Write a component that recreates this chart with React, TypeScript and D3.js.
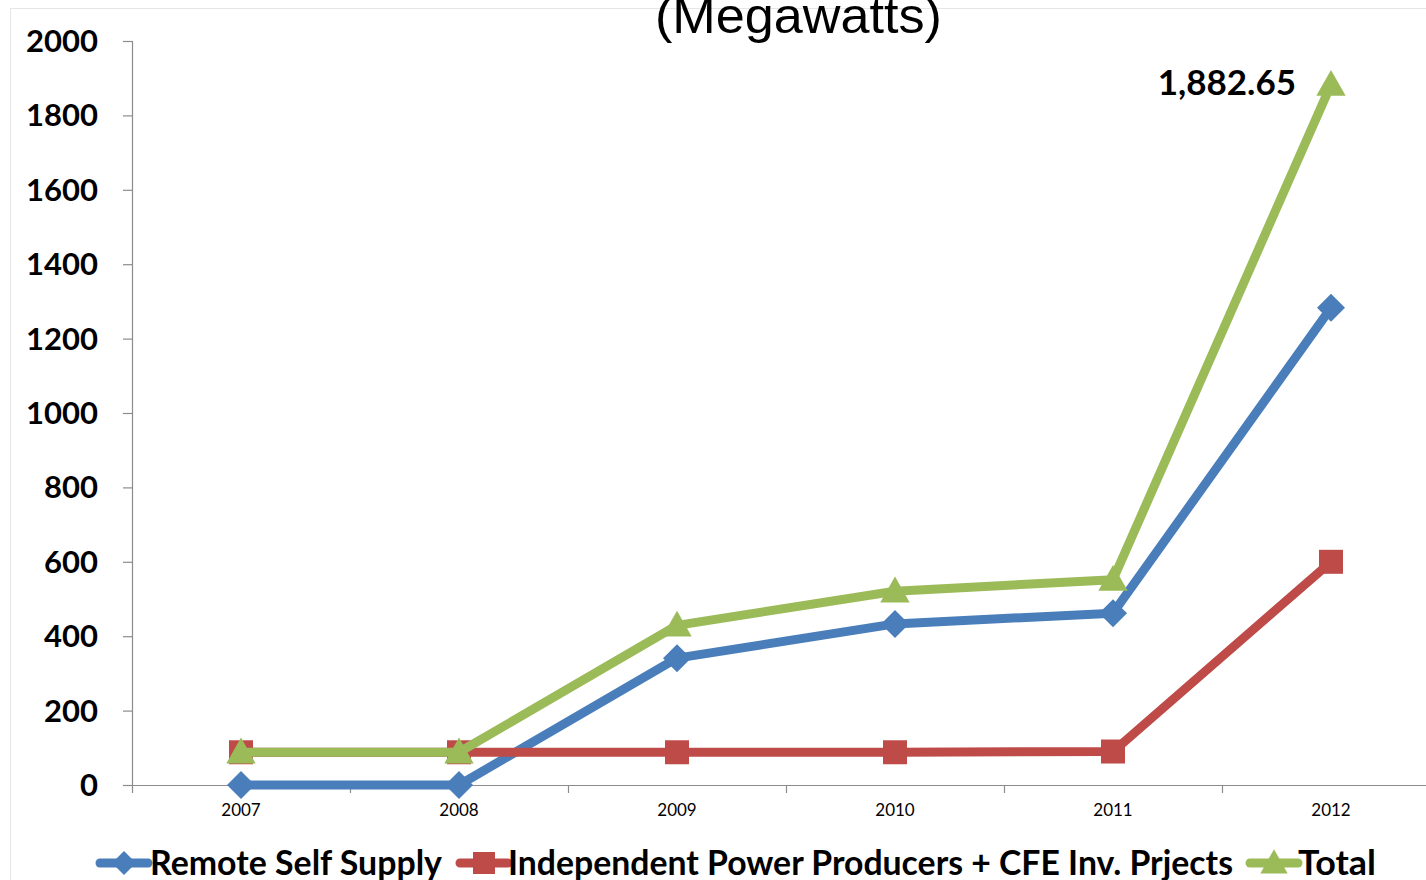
import React from "react";
import * as d3 from "d3";

const categories = ["2007", "2008", "2009", "2010", "2011", "2012"];
const remoteSelfSupply = [0, 0, 341, 433, 462, 1282.65];
const independentProducers = [88, 88, 88, 88, 90, 600];
const total = [88, 88, 429, 521, 552, 1882.65];
const yTicks = [0, 200, 400, 600, 800, 1000, 1200, 1400, 1600, 1800, 2000];
const seriesNames = ["Remote Self Supply", "Independent Power Producers + CFE Inv. Prjects", "Total"];
const annotationText = "1,882.65";

const BLUE = "#4A7EBB";
const RED = "#BE4B48";
const GREEN = "#9BBB59";

export default function App() {
  const W = 1426, H = 880;
  const x = d3.scaleBand<string>().domain(categories).range([132, 132 + 6 * 218]).paddingInner(0).paddingOuter(0);
  const y = d3.scaleLinear().domain([0, 2000]).range([785, 41]);
  const cx = (c: string) => (x(c) as number) + x.bandwidth() / 2;
  const line = d3.line<number>().x((_, i) => cx(categories[i])).y((v) => y(v));

  const diamond = (px: number, py: number, r: number) =>
    `M${px},${py - r}L${px + r},${py}L${px},${py + r}L${px - r},${py}Z`;
  const square = (px: number, py: number, r: number) =>
    `M${px - r},${py - r}H${px + r}V${py + r}H${px - r}Z`;
  const triangle = (px: number, py: number, r: number) =>
    `M${px},${py - r * 1.05}L${px + r * 1.05},${py + r * 0.8}L${px - r * 1.05},${py + r * 0.8}Z`;

  const boldFont = "Lato, 'Open Sans', sans-serif";
  const series = [
    { data: remoteSelfSupply, color: BLUE, marker: (a: number, b: number) => diamond(a, b, 14) },
    { data: independentProducers, color: RED, marker: (a: number, b: number) => square(a, b, 12) },
    { data: total, color: GREEN, marker: (a: number, b: number) => triangle(a, b, 14) },
  ];

  const legend = [
    { lx: 100, tx: 150, tw: 292, color: BLUE, m: (a: number, b: number) => diamond(a, b, 12) },
    { lx: 460, tx: 508, tw: 725, color: RED, m: (a: number, b: number) => square(a, b, 11) },
    { lx: 1250, tx: 1298, tw: 78, color: GREEN, m: (a: number, b: number) => triangle(a, b, 13) },
  ];

  return (
    <svg width={W} height={H} style={{ position: "absolute", left: 0, top: 0, background: "#fff" }}>
      <rect x={10.5} y={8.5} width={W + 10} height={H} fill="none" stroke="#e6e6e6" />
      <text x={655} y={33} textLength={287} lengthAdjust="spacingAndGlyphs" fontFamily="'Liberation Sans Narrow', 'Liberation Sans', Arial, sans-serif" fontSize={50} fill="#000">(Megawatts)</text>
      {/* y axis */}
      <line x1={132.5} x2={132.5} y1={y(2000)} y2={y(0)} stroke="#8c8c8c" strokeWidth={1.2} />
      {yTicks.map((t) => (
        <g key={t}>
          <line x1={123} x2={132} y1={y(t) + 0.5} y2={y(t) + 0.5} stroke="#8c8c8c" strokeWidth={1.2} />
          <text x={98} y={y(t) + 11} textAnchor="end" fontFamily={boldFont} fontWeight="bold" fontSize={31} fill="#000">{t}</text>
        </g>
      ))}
      {/* x axis */}
      <line x1={132} x2={W} y1={y(0) + 0.5} y2={y(0) + 0.5} stroke="#8c8c8c" strokeWidth={1.2} />
      {categories.map((c) => (
        <line key={"t" + c} x1={(x(c) as number) + 0.5} x2={(x(c) as number) + 0.5} y1={y(0)} y2={y(0) + 8} stroke="#8c8c8c" strokeWidth={1.2} />
      ))}
      {categories.map((c) => (
        <text key={"l" + c} x={cx(c)} y={816} textAnchor="middle" fontFamily="Lato, sans-serif" fontSize={17} fill="#000">{c}</text>
      ))}
      {/* series */}
      {series.map((s, si) => (
        <g key={si}>
          <path d={line(s.data) || ""} fill="none" stroke={s.color} strokeWidth={9} strokeLinejoin="round" />
          {s.data.map((v, i) => (
            <path key={i} d={s.marker(cx(categories[i]), y(v))} fill={s.color} />
          ))}
        </g>
      ))}
      <text x={1296} y={95} textAnchor="end" fontFamily={boldFont} fontWeight="bold" fontSize={35} fill="#000">{annotationText}</text>
      {/* legend */}
      {legend.map((l, i) => (
        <g key={i}>
          <line x1={l.lx} x2={l.lx + 48} y1={863} y2={863} stroke={l.color} strokeWidth={9} strokeLinecap="round" />
          <path d={l.m(l.lx + 24, 863)} fill={l.color} />
          <text x={l.tx} y={875} textLength={l.tw} lengthAdjust="spacingAndGlyphs" fontFamily={boldFont} fontWeight="bold" fontSize={34} fill="#000">{seriesNames[i]}</text>
        </g>
      ))}
    </svg>
  );
}
